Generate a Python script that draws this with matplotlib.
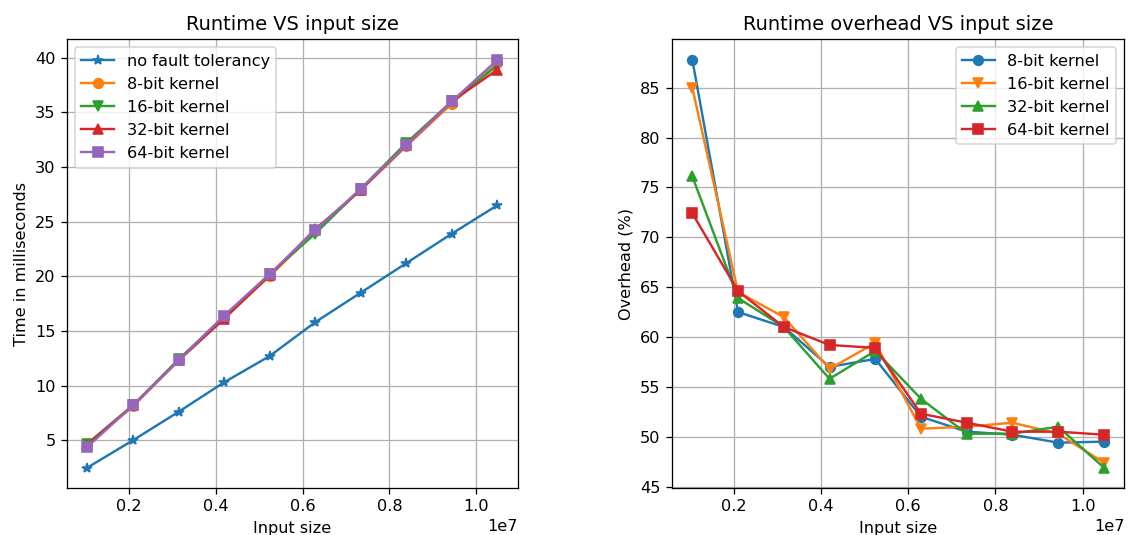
import matplotlib
matplotlib.use('Agg')
import matplotlib.pyplot as plt
import numpy as np

input_sizes = [1048576 * k for k in range(1, 11)]

time_no_ft = [2.5, 5.0, 7.6, 10.3, 12.7, 15.8, 18.5, 21.2, 23.9, 26.5]
time_8bit = [4.6, 8.1, 12.3, 16.2, 20.0, 24.1, 27.9, 31.9, 35.8, 39.5]
time_16bit = [4.7, 8.2, 12.4, 16.3, 20.2, 23.9, 28.0, 32.2, 36.0, 39.3]
time_32bit = [4.6, 8.2, 12.3, 16.1, 20.1, 24.3, 27.9, 32.0, 36.0, 38.9]
time_64bit = [4.4, 8.2, 12.3, 16.4, 20.2, 24.2, 28.0, 32.0, 36.0, 39.8]

overhead_8bit = [87.8, 62.5, 61.0, 57.0, 57.8, 52.0, 50.5, 50.2, 49.4, 49.5]
overhead_16bit = [85.0, 64.5, 62.0, 56.8, 59.4, 50.8, 51.0, 51.4, 50.3, 47.4]
overhead_32bit = [76.1, 63.9, 61.0, 55.8, 58.6, 53.8, 50.3, 50.3, 51.0, 46.9]
overhead_64bit = [72.4, 64.6, 61.0, 59.2, 58.9, 52.3, 51.4, 50.5, 50.5, 50.2]

dpi = 116
fig = plt.figure(figsize=(1129 / dpi, 535 / dpi), dpi=dpi)
ax1 = fig.add_axes([0.0593, 0.0879, 0.3995, 0.8385])
ax2 = fig.add_axes([0.595, 0.0879, 0.401, 0.8385])

ax1.plot(input_sizes, time_no_ft, marker='*', label='no fault tolerancy')
ax1.plot(input_sizes, time_8bit, marker='o', label='8-bit kernel')
ax1.plot(input_sizes, time_16bit, marker='v', label='16-bit kernel')
ax1.plot(input_sizes, time_32bit, marker='^', label='32-bit kernel')
ax1.plot(input_sizes, time_64bit, marker='s', label='64-bit kernel')
ax1.set_title('Runtime VS input size')
ax1.set_xlabel('Input size')
ax1.set_ylabel('Time in milliseconds')
ax1.grid(True)
ax1.legend(loc='upper left')

ax2.plot(input_sizes, overhead_8bit, marker='o', label='8-bit kernel')
ax2.plot(input_sizes, overhead_16bit, marker='v', label='16-bit kernel')
ax2.plot(input_sizes, overhead_32bit, marker='^', label='32-bit kernel')
ax2.plot(input_sizes, overhead_64bit, marker='s', label='64-bit kernel')
ax2.set_title('Runtime overhead VS input size')
ax2.set_xlabel('Input size')
ax2.set_ylabel('Overhead (%)')
ax2.grid(True)
ax2.legend(loc='upper right')

plt.savefig('out.png', dpi=dpi)
